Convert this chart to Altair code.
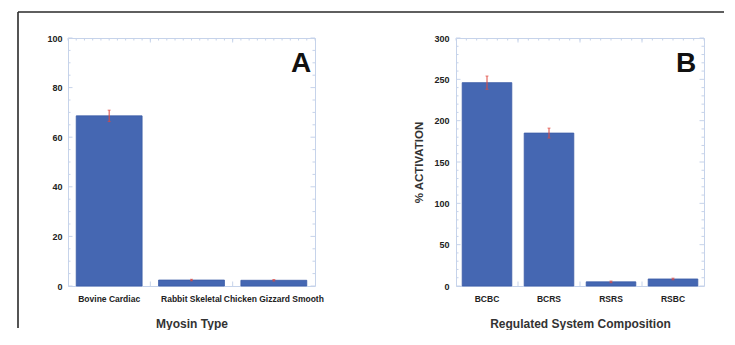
import altair as alt
import numpy as np
import pandas as pd

FONT = "Liberation Sans"
BAR = "#4567b2"
BAR_EDGE = "#3a5ba6"
ERR = "#e0483f"
FRAME = "#c6d3ea"
INK = "#222222"

# ---- Panel A data ----
myosin_types = ["Bovine Cardiac", "Rabbit Skeletal", "Chicken Gizzard Smooth"]
myosin_values = [68.6, 2.4, 2.3]
myosin_errors = [2.3, 0.3, 0.3]
a_major_ticks = [0, 20, 40, 60, 80, 100]
a_minor_step = 5

# ---- Panel B data ----
systems = ["BCBC", "BCRS", "RSRS", "RSBC"]
system_values = [246, 185, 5, 8.5]
system_errors = [8, 6, 1, 1]
b_major_ticks = [0, 50, 100, 150, 200, 250, 300]
b_minor_step = 10

H = 248


def panel(cats, vals, errs, ymax, majors, minor_step, top_per_cat, letter,
          letter_inset, xtitle, ytitle, width, label_pad, frame=False):
    n = len(cats)
    df = pd.DataFrame({
        "cat": cats,
        "v": vals,
        "lo": [v - e for v, e in zip(vals, errs)],
        "hi": [v + e for v, e in zip(vals, errs)],
    })
    yscale = alt.Scale(domain=[0, ymax], nice=False, zero=True)
    xscale = alt.Scale(paddingInner=0.2, paddingOuter=0.1)
    yaxis_kwargs = dict(
        values=majors, ticks=False, domain=False, grid=False,
        labelFont=FONT, labelFontSize=9, labelFontWeight="bold",
        labelColor=INK, labelPadding=label_pad,
    )
    if ytitle:
        yaxis_kwargs.update(
            title=ytitle, titleFont=FONT, titleFontSize=11.5,
            titleFontWeight="bold", titleColor="#333333",
            titleX=-37, titleY=H / 2, titleBaseline="middle", titleAngle=270,
        )
    else:
        yaxis_kwargs.update(title=None)
    xaxis = alt.Axis(
        title=xtitle, labelAngle=0, labelFont=FONT, labelFontSize=8.5,
        labelFontWeight="bold", labelColor=INK, labelPadding=8,
        labelLimit=400, labelOverlap=False, ticks=False, domain=False,
        grid=False, titleFont=FONT, titleFontSize=12, titleFontWeight="bold",
        titleColor="#333333", titleY=37, titleBaseline="middle",
    )
    base = alt.Chart(df)
    xc = alt.X("cat:N", sort=cats, scale=xscale)
    bars = base.mark_bar(color=BAR, stroke=BAR_EDGE, strokeWidth=0.8).encode(
        x=alt.X("cat:N", sort=cats, scale=xscale, axis=xaxis),
        y=alt.Y("v:Q", scale=yscale, axis=alt.Axis(**yaxis_kwargs)),
    )
    err = base.mark_rule(color=ERR, strokeWidth=1).encode(
        x=xc, y=alt.Y("lo:Q", scale=yscale), y2="hi:Q",
    )
    cap_hi = base.mark_tick(color=ERR, size=3, thickness=1).encode(
        x=xc, y=alt.Y("hi:Q", scale=yscale),
    )
    cap_lo = base.mark_tick(color=ERR, size=3, thickness=1).encode(
        x=xc, y=alt.Y("lo:Q", scale=yscale),
    )

    # inward y ticks (minor / major) on left and right
    minor_vals = [t for t in np.arange(0, ymax + 1e-9, minor_step) if t not in majors]
    ymin_df = pd.DataFrame({"t": minor_vals})
    ymaj_df = pd.DataFrame({"t": majors})
    yt = alt.Y("t:Q", scale=yscale)
    lminor = alt.Chart(ymin_df).mark_rule(color=FRAME).encode(
        y=yt, x=alt.value(0), x2=alt.value(2.5))
    rminor = alt.Chart(ymin_df).mark_rule(color=FRAME).encode(
        y=yt, x=alt.value(width - 2.5), x2=alt.value(width))
    lmajor = alt.Chart(ymaj_df).mark_rule(color=FRAME).encode(
        y=yt, x=alt.value(0), x2=alt.value(4.5))
    rmajor = alt.Chart(ymaj_df).mark_rule(color=FRAME).encode(
        y=yt, x=alt.value(width - 4.5), x2=alt.value(width))
    data_layer = alt.layer(bars, err, cap_hi, cap_lo, lminor, rminor, lmajor, rmajor)

    # top minor ticks and top/bottom category-boundary ticks
    qscale = alt.Scale(domain=[0.5, n + 0.5], nice=False, zero=False)
    top_vals = list(np.arange(0.5, n + 0.5 + 1e-9, 1.0 / top_per_cat))
    bound_vals = [k + 0.5 for k in range(1, n)]
    tdf = pd.DataFrame({"p": top_vals})
    bdf = pd.DataFrame({"p": bound_vals})
    xq = alt.X("p:Q", scale=qscale, axis=None)
    top_minor = alt.Chart(tdf).mark_rule(color=FRAME).encode(
        x=xq, y=alt.value(0), y2=alt.value(2.5))
    top_major = alt.Chart(bdf).mark_rule(color=FRAME).encode(
        x=xq, y=alt.value(0), y2=alt.value(4.5))
    bot_major = alt.Chart(bdf).mark_rule(color=FRAME).encode(
        x=xq, y=alt.value(H - 4.5), y2=alt.value(H))

    one = pd.DataFrame({"k": [0]})
    letter_mark = alt.Chart(one).mark_text(
        text=letter, font=FONT, fontSize=28, fontWeight="bold", color="#111111",
        align="center", baseline="alphabetic",
    ).encode(x=alt.value(width - letter_inset), y=alt.value(34))

    layers = [data_layer, top_minor, top_major, bot_major, letter_mark]
    if frame:
        top_line = alt.Chart(one).mark_rule(color="#2a2a2a", strokeWidth=1.6).encode(
            x=alt.value(-50), x2=alt.value(656), y=alt.value(-26))
        left_line = alt.Chart(one).mark_rule(color="#2a2a2a", strokeWidth=1.6).encode(
            x=alt.value(-50), y=alt.value(-26), y2=alt.value(290))
        layers += [top_line, left_line]
    return alt.layer(*layers).resolve_scale(x="independent").properties(
        width=width, height=H)


panel_a = panel(myosin_types, myosin_values, myosin_errors, 100, a_major_ticks,
                a_minor_step, 10, "A", 14, "Myosin Type", None, 247, 6, frame=True)
panel_b = panel(systems, system_values, system_errors, 300, b_major_ticks,
                b_minor_step, 6, "B", 18, "Regulated System Composition",
                "% ACTIVATION", 248, 7)

chart = alt.hconcat(panel_a, panel_b, spacing=141, bounds="flush").properties(
    padding={"left": 8, "top": 2, "right": 0, "bottom": 0},
    background="white",
).configure_view(stroke=FRAME, strokeWidth=1)

chart.save("out.html", embed_options={"renderer": "svg", "actions": False})
